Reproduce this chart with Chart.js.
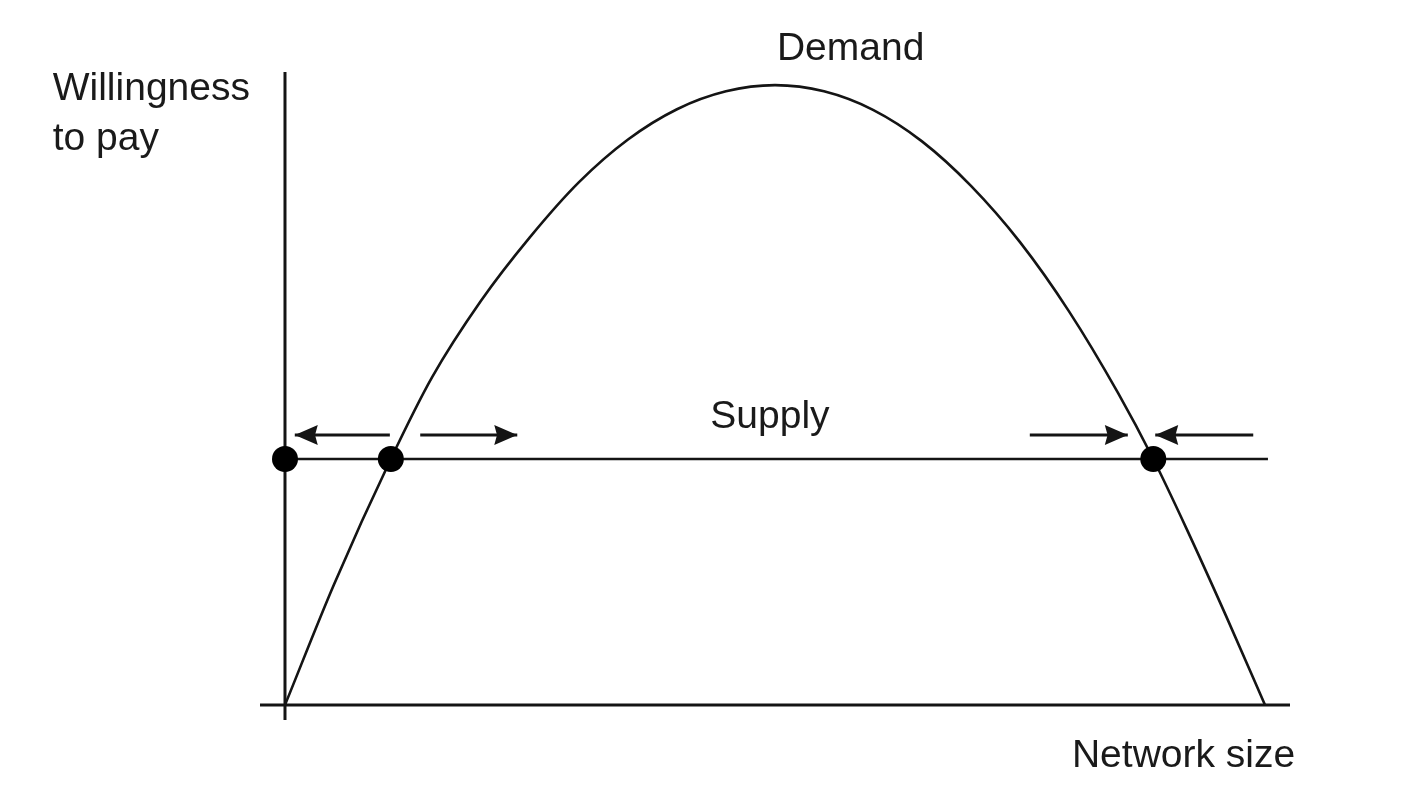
<!DOCTYPE html>
<html>
<head>
<meta charset="utf-8">
<script src="https://cdn.jsdelivr.net/npm/chart.js@4.4.1/dist/chart.umd.min.js"></script>
<style>
html,body{margin:0;padding:0;background:#fff;}
canvas{display:block;}
</style>
</head>
<body>
<canvas id="c" width="1402" height="794"></canvas>
<script>
// Demand curve (network size vs willingness to pay)
const demandX = [0, 5, 10.8, 15, 20, 25, 30, 35, 40, 45, 50, 55, 60, 65, 70, 75, 80, 85, 88.6, 92, 96, 100];
const demandY = [0, 19.5, 39.8, 53.0, 65.4, 75.7, 84.6, 91.5, 96.4, 99.3, 100.3, 99.3, 96.3, 91.2, 84.0, 74.9, 63.7, 50.5, 39.8, 28.5, 14.5, 0];
// Supply (flat)
const supplyX = [0, 100.3];
const supplyY = [39.8, 39.8];
// Equilibrium points
const eqX = [0, 10.8, 88.6];
const eqY = [39.8, 39.8, 39.8];
// Axes extents
const xAxisX = [-2.55, 102.55];
const xAxisY = [0, 0];
const yAxisX = [0, 0];
const yAxisY = [-2.43, 102.43];
// Arrows: [fromX, toX] at arrowY
const arrowFrom = [10.7, 13.8, 76.0, 98.8];
const arrowTo = [1.0, 23.7, 86.0, 88.8];
const arrowY = 43.7;
// Text labels
const labels = [
  {text: 'Demand', x: 50.2, y: 104.4},
  {text: 'Willingness', x: -23.7, y: 97.9},
  {text: 'to pay', x: -23.7, y: 89.8},
  {text: 'Supply', x: 43.4, y: 44.8},
  {text: 'Network size', x: 80.3, y: -10.0}
];

const zip = (xs, ys) => xs.map((x, i) => ({x: x, y: ys[i]}));
const INK = '#141414';

const lineDs = (data, width, order) => ({
  type: 'line', data: data, borderColor: INK, borderWidth: width,
  pointRadius: 0, fill: false, tension: 0, clip: false, order: order
});

const datasets = [
  Object.assign(lineDs(zip(eqX, eqY), 0, 0), {type: 'scatter', pointRadius: 13, pointBackgroundColor: '#000', pointBorderColor: '#000', pointBorderWidth: 0, showLine: false}),
  Object.assign(lineDs(zip(demandX, demandY), 2.6, 2), {cubicInterpolationMode: 'monotone'}),
  lineDs(zip(supplyX, supplyY), 2.6, 3),
  lineDs(zip(xAxisX, xAxisY), 3, 4),
  lineDs(zip(yAxisX, yAxisY), 3, 4)
];
arrowFrom.forEach((f, i) => {
  datasets.push(lineDs([{x: f, y: arrowY}, {x: arrowTo[i], y: arrowY}], 3, 1));
});

const overlay = {
  id: 'overlay',
  afterDatasetsDraw(chart) {
    const ctx = chart.ctx;
    const xs = chart.scales.x, ys = chart.scales.y;
    ctx.save();
    ctx.fillStyle = INK;
    // arrowheads
    arrowFrom.forEach((f, i) => {
      const px0 = xs.getPixelForValue(f);
      const px1 = xs.getPixelForValue(arrowTo[i]);
      const py = ys.getPixelForValue(arrowY);
      const dir = px1 > px0 ? 1 : -1;
      const L = 23, W = 10;
      ctx.beginPath();
      ctx.moveTo(px1, py);
      ctx.lineTo(px1 - dir * L, py - W);
      ctx.lineTo(px1 - dir * L * 0.88, py);
      ctx.lineTo(px1 - dir * L, py + W);
      ctx.closePath();
      ctx.fill();
    });
    // labels
    ctx.font = '39px "Liberation Sans", Arial, sans-serif';
    ctx.textBaseline = 'alphabetic';
    ctx.textAlign = 'left';
    ctx.fillStyle = '#1a1a1a';
    labels.forEach(l => {
      ctx.fillText(l.text, xs.getPixelForValue(l.x), ys.getPixelForValue(l.y));
    });
    ctx.restore();
  }
};

new Chart(document.getElementById('c'), {
  type: 'line',
  data: {datasets: datasets},
  options: {
    responsive: false,
    animation: false,
    devicePixelRatio: 1,
    layout: {padding: {left: 260, right: 112, top: 72, bottom: 74}},
    plugins: {legend: {display: false}, tooltip: {enabled: false}},
    scales: {
      x: {type: 'linear', min: -2.55, max: 102.55, display: false},
      y: {type: 'linear', min: -2.43, max: 102.43, display: false}
    }
  },
  plugins: [overlay]
});
</script>
</body>
</html>
